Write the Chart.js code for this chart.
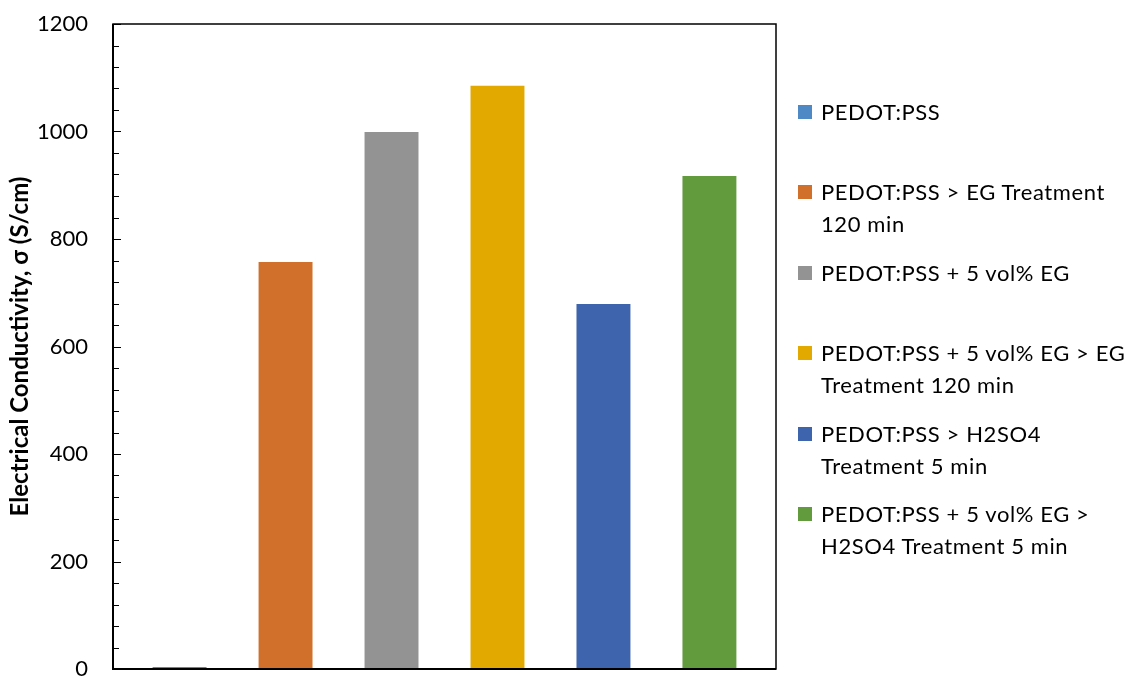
<!DOCTYPE html>
<html>
<head>
<meta charset="utf-8">
<script src="https://cdn.jsdelivr.net/npm/chart.js@4/dist/chart.umd.min.js"></script>
<style>
  html, body { margin: 0; padding: 0; background: #fff; }
  #wrap { position: relative; width: 1131px; height: 677px; overflow: hidden; }
  #chart { position: absolute; left: 0; top: 0; }
  #legend { position: absolute; left: 798px; top: 0; font-family: Lato, "Open Sans", sans-serif; color: #000; }
  .item { position: absolute; left: 0; display: flex; align-items: flex-start; }
  .sw { width: 14px; height: 14px; margin-top: 9px; flex: none; }
  .txt { margin-left: 9px; width: 312px; font-size: 22px; letter-spacing: 0.6px; line-height: 32px; }
</style>
</head>
<body>
<div id="wrap">
  <canvas id="chart" width="1131" height="677"></canvas>
  <div id="legend"></div>
</div>
<script>
// Sample treatments and their measured conductivity (S/cm)
const seriesLabels = [
  'PEDOT:PSS',
  'PEDOT:PSS > EG Treatment 120 min',
  'PEDOT:PSS + 5 vol% EG',
  'PEDOT:PSS + 5 vol% EG > EG Treatment 120 min',
  'PEDOT:PSS > H2SO4 Treatment 5 min',
  'PEDOT:PSS + 5 vol% EG > H2SO4 Treatment 5 min'
];
const conductivity = [1, 757, 999, 1085, 679, 917];
const barColors = ['#4f89c5', '#d1702b', '#939393', '#e2aa00', '#3d64ac', '#629a3e'];

// Value axis
const yMin = 0, yMax = 1200, yMajorStep = 200, yMinorStep = 40;
const yTitle = 'Electrical Conductivity, \u03c3 (S/cm)';

const FONT = 'Lato, "Open Sans", sans-serif';

// Plot frame with inward major/minor tick marks on the value axis
const framePlugin = {
  id: 'frame',
  afterDraw(chart) {
    const { ctx, chartArea: a, scales: { y } } = chart;
    ctx.save();
    ctx.strokeStyle = '#000';
    ctx.lineWidth = 1.5;
    ctx.strokeRect(a.left, a.top, a.right - a.left, a.bottom - a.top);
    ctx.lineWidth = 2;
    ctx.beginPath();
    ctx.moveTo(a.left, a.top); ctx.lineTo(a.left, a.bottom); ctx.lineTo(a.right, a.bottom);
    ctx.stroke();
    ctx.lineWidth = 1;
    y.ticks.forEach(t => {
      const py = Math.round(y.getPixelForValue(t.value)) + 0.5;
      const len = t.value % yMajorStep === 0 ? 8 : 6;
      ctx.beginPath();
      ctx.moveTo(a.left, py); ctx.lineTo(a.left + len, py);
      ctx.stroke();
    });
    ctx.restore();
  }
};

const chart = new Chart(document.getElementById('chart'), {
  type: 'bar',
  data: {
    labels: [''],
    datasets: seriesLabels.map((label, i) => ({
      label,
      data: [conductivity[i]],
      backgroundColor: barColors[i],
      borderWidth: 0,
      minBarLength: 2
    }))
  },
  options: {
    responsive: false,
    animation: false,
    events: [],
    categoryPercentage: 0.959,
    barPercentage: 0.509,
    layout: { padding: { left: 0, top: 24, right: 355, bottom: 8 } },
    plugins: { legend: { display: false }, tooltip: { enabled: false } },
    scales: {
      x: { display: false },
      y: {
        min: yMin,
        max: yMax,
        afterFit(scale) { scale.width = 113; scale.paddingTop = 0; scale.paddingBottom = 0; },
        grid: { display: false, drawTicks: false },
        border: { display: false },
        ticks: {
          stepSize: yMinorStep,
          autoSkip: false,
          padding: 25,
          color: '#000',
          font: { family: FONT, size: 22 },
          callback: v => (v % yMajorStep === 0 ? String(v) : '')
        },
        title: {
          display: true,
          text: yTitle,
          color: '#000',
          padding: { top: 6, bottom: 0 },
          font: { family: FONT, size: 24, weight: 'bold' }
        }
      }
    }
  },
  plugins: [framePlugin]
});

// Legend built from the chart's datasets
const legend = document.getElementById('legend');
chart.data.datasets.forEach((ds, i) => {
  const item = document.createElement('div');
  item.className = 'item';
  item.style.top = (96 + i * 80.4) + 'px';
  const sw = document.createElement('div');
  sw.className = 'sw';
  sw.style.background = ds.backgroundColor;
  const txt = document.createElement('div');
  txt.className = 'txt';
  txt.textContent = ds.label;
  item.appendChild(sw);
  item.appendChild(txt);
  legend.appendChild(item);
});
</script>
</body>
</html>
